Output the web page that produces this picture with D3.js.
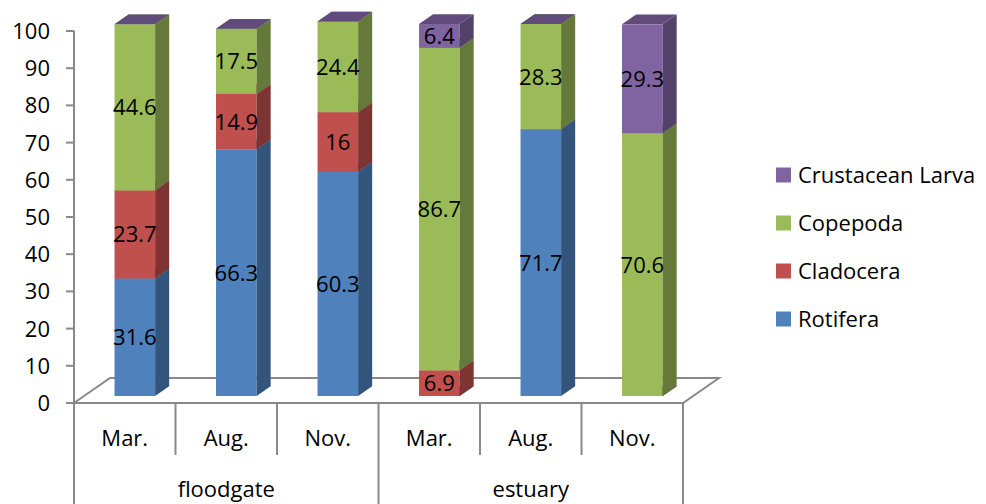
<!DOCTYPE html>
<html lang="en">
<head>
<meta charset="UTF-8">
<title>Zooplankton composition</title>
<script src="https://d3js.org/d3.v7.min.js"></script>
<style>
  body { margin: 0; background: #fff; }
  svg { display: block; font-family: "Open Sans", Arial, sans-serif; }
  .tick-label { font-size: 22px; fill: #000; }
  .data-label { font-size: 22px; fill: #000; }
  .cat-label { font-size: 22px; fill: #000; }
  .legend-label { font-size: 22px; fill: #000; }
</style>
</head>
<body>
<div id="chart"></div>
<script>
// categories (month within site)
const months = ["Mar.", "Aug.", "Nov.", "Mar.", "Aug.", "Nov."];
const sites = ["floodgate", "estuary"];
const seriesNames = ["Rotifera", "Cladocera", "Copepoda", "Crustacean Larva"];
const seriesColors = ["#4F81BD", "#C0504D", "#9BBB59", "#8064A2"];

// series values (percent)
const rotifera  = [31.6, 66.3, 60.3, 0, 71.7, 0];
const cladocera = [23.7, 14.9, 16, 6.9, 0, 0];
const copepoda  = [44.6, 17.5, 24.4, 86.7, 28.3, 70.6];
const crustacean = [0, 0, 0, 6.4, 0, 29.3];
const yTicks = [0, 10, 20, 30, 40, 50, 60, 70, 80, 90, 100];

const seriesValues = [rotifera, cladocera, copepoda, crustacean];

const width = 986, height = 504;
const svg = d3.select("#chart").append("svg")
    .attr("width", width).attr("height", height);

const x = d3.scaleBand().domain(d3.range(months.length)).range([74, 683]).padding(0);
const y = d3.scaleLinear().domain([0, 100]).range([403, 31]);

// depth of the floor and placement of bars in it
const depth = {x: 36, y: -25};
const frontF = 0.28, backF = 0.67;
const fdx = depth.x * frontF, fdy = depth.y * frontF;
const bdx = depth.x * backF - fdx, bdy = depth.y * backF - fdy;
const barW = x.bandwidth() * 0.4;

const gray = "#898989";

// floor
const x0 = x.range()[0], x1 = x.range()[1], yb = y(0);
svg.append("path")
    .attr("d", `M${x0},${yb}L${x0 + depth.x},${yb + depth.y}L${x1 + depth.x},${yb + depth.y}L${x1},${yb}Z`)
    .attr("fill", "none").attr("stroke", gray).attr("stroke-width", 2);

// y axis
const yAxis = svg.append("g");
yAxis.append("line")
    .attr("x1", x0).attr("x2", x0).attr("y1", y(100)).attr("y2", height)
    .attr("stroke", gray).attr("stroke-width", 2);
yAxis.selectAll(".tk").data(yTicks).enter().append("line")
    .attr("x1", x0 - 8).attr("x2", x0).attr("y1", d => y(d)).attr("y2", d => y(d))
    .attr("stroke", gray).attr("stroke-width", 2);
yAxis.selectAll(".tick-label").data(yTicks).enter().append("text")
    .attr("class", "tick-label")
    .attr("x", 50).attr("y", d => y(d)).attr("dy", "0.36em")
    .attr("text-anchor", "end").text(d => d);

// category axis (two levels)
const catAxis = svg.append("g");
d3.range(months.length + 1).forEach(i => {
    const xx = x0 + i * x.bandwidth();
    const isGroup = i % 3 === 0;
    catAxis.append("line")
        .attr("x1", xx).attr("x2", xx).attr("y1", yb).attr("y2", isGroup ? height : 455)
        .attr("stroke", gray).attr("stroke-width", 2);
});
catAxis.selectAll(".cat-label.m").data(months).enter().append("text")
    .attr("class", "cat-label")
    .attr("x", (d, i) => x(i) + x.bandwidth() / 2).attr("y", 446)
    .attr("text-anchor", "middle").text(d => d);
catAxis.selectAll(".cat-label.s").data(sites).enter().append("text")
    .attr("class", "cat-label")
    .attr("x", (d, i) => x0 + (i * 3 + 1.5) * x.bandwidth()).attr("y", 497)
    .attr("text-anchor", "middle").text(d => d);

// stacked 3D bars
function shade(c, k) { return d3.color(c).darker(k).formatHex(); }
const bars = svg.append("g");
months.forEach((m, i) => {
    const left = x(i) + x.bandwidth() / 2 - barW / 2 + fdx;
    const right = left + barW;
    let cum = 0;
    seriesValues.forEach((vals, s) => {
        const v = vals[i];
        const yB = y(cum) + fdy, yT = y(cum + v) + fdy;
        cum += v;
        const c = seriesColors[s];
        bars.append("rect")
            .attr("x", left).attr("y", yT).attr("width", barW).attr("height", yB - yT)
            .attr("fill", c);
        bars.append("path")
            .attr("d", `M${right},${yB}L${right + bdx},${yB + bdy}L${right + bdx},${yT + bdy}L${right},${yT}Z`)
            .attr("fill", shade(c, 1.2));
        bars.append("path")
            .attr("d", `M${left},${yT}L${left + bdx},${yT + bdy}L${right + bdx},${yT + bdy}L${right},${yT}Z`)
            .attr("fill", shade(c, 0.8));
    });
});

// data labels
const labels = svg.append("g");
months.forEach((m, i) => {
    const cx = x(i) + x.bandwidth() / 2 + fdx;
    let cum = 0;
    seriesValues.forEach(vals => {
        const v = vals[i];
        if (v > 0) {
            labels.append("text")
                .attr("class", "data-label")
                .attr("x", cx).attr("y", y(cum + v / 2) + fdy).attr("dy", "0.36em")
                .attr("text-anchor", "middle").text(v);
        }
        cum += v;
    });
});

// legend
const legendOrder = [3, 2, 1, 0];
const legend = svg.append("g");
legendOrder.forEach((s, k) => {
    const ly = 175 + k * 48;
    legend.append("rect")
        .attr("x", 776).attr("y", ly - 7.5).attr("width", 15).attr("height", 15)
        .attr("fill", seriesColors[s]);
    legend.append("text")
        .attr("class", "legend-label")
        .attr("x", 798).attr("y", ly).attr("dy", "0.36em")
        .text(seriesNames[s]);
});
</script>
</body>
</html>
